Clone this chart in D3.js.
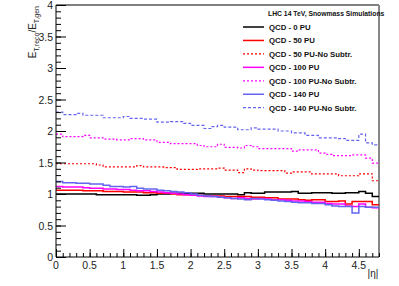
<!DOCTYPE html>
<html>
<head>
<meta charset="utf-8">
<script src="https://cdn.jsdelivr.net/npm/d3@7"></script>
<style>
  body { margin: 0; background: #fff; }
  text { font-family: "Liberation Sans", Arial, sans-serif; }
</style>
</head>
<body>
<script>
// eta bins: 0 .. 4.8, width 0.1
var binWidth = 0.1;
var etaMax = 4.8;

var qcd0 = [1.00,1.00,1.00,1.00,1.00, 1.00,0.99,0.99,0.99,0.99,
            0.99,0.99,0.98,0.98,0.99, 1.00,1.00,1.01,1.01,1.01,
            1.01,1.01,1.00,1.00,1.00, 1.00,1.00,0.99,1.02,1.01,
            1.01,1.03,1.03,1.03,1.03, 1.04,1.01,1.01,1.02,1.02,
            1.02,1.01,1.01,1.02,1.02, 1.04,1.01,0.96];
var qcd50 = [1.06,1.06,1.06,1.06,1.05, 1.05,1.05,1.04,1.04,1.04,
             1.03,1.03,1.03,1.02,1.02, 1.01,1.01,1.00,0.99,0.99,
             0.98,0.98,0.97,0.97,0.97, 0.96,0.96,0.96,0.96,0.95,
             0.95,0.94,0.94,0.92,0.92, 0.92,0.91,0.90,0.91,0.91,
             0.88,0.88,0.89,0.84,0.88, 0.88,0.88,0.83];
var qcd50nosub = [1.48,1.48,1.48,1.48,1.48, 1.48,1.46,1.43,1.43,1.43,
                  1.43,1.43,1.45,1.43,1.43, 1.43,1.42,1.42,1.39,1.39,
                  1.39,1.40,1.40,1.40,1.41, 1.38,1.38,1.34,1.40,1.38,
                  1.37,1.37,1.37,1.37,1.33, 1.35,1.35,1.35,1.32,1.32,
                  1.32,1.32,1.29,1.29,1.29, 1.32,1.32,1.21];
var qcd100 = [1.12,1.11,1.11,1.11,1.10, 1.09,1.09,1.08,1.08,1.07,
              1.07,1.06,1.05,1.05,1.04, 1.03,1.02,1.01,1.00,0.99,
              0.98,0.97,0.96,0.96,0.95, 0.94,0.93,0.94,0.93,0.92,
              0.93,0.92,0.91,0.91,0.90, 0.89,0.89,0.88,0.87,0.87,
              0.85,0.84,0.84,0.81,0.80, 0.84,0.79,0.78];
var qcd100nosub = [1.95,1.91,1.91,1.91,1.93, 1.89,1.89,1.87,1.87,1.86,
                   1.86,1.88,1.88,1.86,1.86, 1.82,1.82,1.80,1.80,1.80,
                   1.80,1.77,1.75,1.75,1.79, 1.74,1.74,1.73,1.77,1.75,
                   1.72,1.72,1.72,1.72,1.72, 1.68,1.70,1.70,1.70,1.65,
                   1.63,1.61,1.61,1.61,1.62, 1.62,1.57,1.49];
var qcd140 = [1.20,1.18,1.18,1.17,1.17, 1.16,1.16,1.14,1.12,1.12,
              1.11,1.12,1.09,1.08,1.08, 1.06,1.05,1.04,1.03,1.02,
              1.00,0.98,0.97,0.96,0.95, 0.94,0.93,0.92,0.91,0.93,
              0.92,0.91,0.90,0.89,0.88, 0.87,0.86,0.86,0.85,0.85,
              0.83,0.81,0.80,0.80,0.70, 0.80,0.79,0.79];
var qcd140nosub = [2.30,2.26,2.26,2.28,2.25, 2.25,2.25,2.21,2.21,2.21,
                   2.23,2.20,2.20,2.19,2.19, 2.14,2.14,2.15,2.15,2.12,
                   2.09,2.09,2.04,2.07,2.09, 2.06,2.06,2.02,2.02,2.05,
                   2.03,2.03,2.03,2.00,2.00, 1.97,1.97,1.93,1.93,1.89,
                   1.89,1.89,1.88,1.85,1.85, 1.95,1.81,1.78];

var seriesNames = ["QCD - 0 PU", "QCD - 50 PU", "QCD - 50 PU-No Subtr.",
                   "QCD - 100 PU", "QCD - 100 PU-No Subtr.",
                   "QCD - 140 PU", "QCD - 140 PU-No Subtr."];
var seriesValues = [qcd0, qcd50, qcd50nosub, qcd100, qcd100nosub, qcd140, qcd140nosub];
var seriesColors = ["#000000", "#ff0000", "#ff0000", "#ff00ff", "#ff00ff", "#6464f0", "#6464f0"];
var seriesDash = [null, null, "2,2", null, "2,2", null, "3,2"];

var xTicks = [0, 0.5, 1, 1.5, 2, 2.5, 3, 3.5, 4, 4.5];
var yTicks = [0, 0.5, 1, 1.5, 2, 2.5, 3, 3.5, 4];

var W = 399, H = 286;
var mLeft = 56, mRight = 379, mTop = 5, mBottom = 257;

var svg = d3.select("body").append("svg")
            .attr("width", W)
            .attr("height", H);

var x = d3.scaleLinear().domain([0, etaMax]).range([mLeft, mRight]);
var y = d3.scaleLinear().domain([0, 4]).range([mBottom, mTop]);

// frame
svg.append("line").attr("x1", mLeft).attr("x2", mRight).attr("y1", mTop).attr("y2", mTop)
   .attr("stroke", "#000").attr("stroke-width", 1);
svg.append("line").attr("x1", mRight).attr("x2", mRight).attr("y1", mTop).attr("y2", mBottom)
   .attr("stroke", "#888").attr("stroke-width", 2);

// histograms (steps)
var line = d3.line()
             .x(function(d) { return x(d[0]); })
             .y(function(d) { return y(d[1]); })
             .curve(d3.curveStepAfter);

seriesValues.forEach(function(vals, i) {
  var pts = vals.map(function(v, j) { return [j * binWidth, v]; });
  pts.push([etaMax, vals[vals.length - 1]]);
  svg.append("path")
     .attr("d", line(pts))
     .attr("fill", "none")
     .attr("stroke", seriesColors[i])
     .attr("stroke-width", seriesDash[i] ? 1.2 : 1.5)
     .attr("stroke-dasharray", seriesDash[i]);
});

// y axis with minor ticks
var gy = svg.append("g").attr("transform", "translate(" + mLeft + ",0)")
            .call(d3.axisRight(y).tickValues(d3.range(0, 4.001, 0.1)).tickSize(5).tickFormat(""));
gy.selectAll("line").attr("stroke", "#000");
gy.select(".domain").remove();
var gyM = svg.append("g").attr("transform", "translate(" + mLeft + ",0)")
             .call(d3.axisRight(y).tickValues(yTicks).tickSize(10).tickFormat(""));
gyM.selectAll("line").attr("stroke", "#000");
gyM.select(".domain").remove();
svg.append("line").attr("x1", mLeft).attr("x2", mLeft).attr("y1", mTop).attr("y2", mBottom)
   .attr("stroke", "#000");
svg.selectAll(".ylab").data(yTicks).enter().append("text")
   .attr("x", mLeft - 3).attr("y", function(d) { return y(d) + 4; })
   .attr("text-anchor", "end").attr("font-size", 10.5).attr("fill", "#222")
   .text(function(d) { return d3.format("")(d); });

// x axis with minor ticks
var gx = svg.append("g").attr("transform", "translate(0," + mBottom + ")")
            .call(d3.axisTop(x).tickValues(d3.range(0, 4.801, 0.1)).tickSize(4).tickFormat(""));
gx.selectAll("line").attr("stroke", "#000");
gx.select(".domain").remove();
var gxM = svg.append("g").attr("transform", "translate(0," + mBottom + ")")
             .call(d3.axisTop(x).tickValues(xTicks).tickSize(8).tickFormat(""));
gxM.selectAll("line").attr("stroke", "#000");
gxM.select(".domain").remove();
svg.append("line").attr("x1", mLeft).attr("x2", mRight).attr("y1", mBottom).attr("y2", mBottom)
   .attr("stroke", "#000");
svg.selectAll(".xlab").data(xTicks).enter().append("text")
   .attr("x", function(d) { return x(d); }).attr("y", mBottom + 12)
   .attr("text-anchor", "middle").attr("font-size", 10.5).attr("fill", "#222")
   .text(function(d) { return d3.format("")(d); });

// axis titles
svg.append("text").attr("x", 373).attr("y", 277).attr("text-anchor", "middle")
   .attr("font-size", 10).attr("fill", "#222").text("|η|");

var yt = svg.append("text")
            .attr("transform", "translate(36," + (mTop + 1) + ") rotate(-90)")
            .attr("text-anchor", "end").attr("font-size", 10).attr("fill", "#222");
yt.append("tspan").text("E");
yt.append("tspan").attr("font-size", 7).attr("dy", 2.5).text("T,reco");
yt.append("tspan").attr("dy", -2.5).text("/E");
yt.append("tspan").attr("font-size", 7).attr("dy", 2.5).text("T,gen");

// legend
var lg = svg.append("g").attr("transform", "translate(243,0)");
lg.append("text").attr("x", 25).attr("y", 16).attr("font-size", 6.8)
  .attr("font-weight", "bold").attr("fill", "#111")
  .text("LHC 14 TeV, Snowmass Simulations");
var rows = lg.selectAll(".row").data(seriesNames).enter().append("g")
             .attr("transform", function(d, i) { return "translate(0," + (27 + i * 13.45) + ")"; });
rows.append("line").attr("x1", 0).attr("x2", 21).attr("y1", 0).attr("y2", 0)
    .attr("stroke", function(d, i) { return seriesColors[i]; })
    .attr("stroke-width", function(d, i) { return seriesDash[i] ? 1.2 : 1.5; })
    .attr("stroke-dasharray", function(d, i) { return seriesDash[i]; });
rows.append("text").attr("x", 26).attr("y", 3).attr("font-size", 7.8)
    .attr("font-weight", "bold").attr("fill", "#111")
    .text(function(d) { return d; });
</script>
</body>
</html>
